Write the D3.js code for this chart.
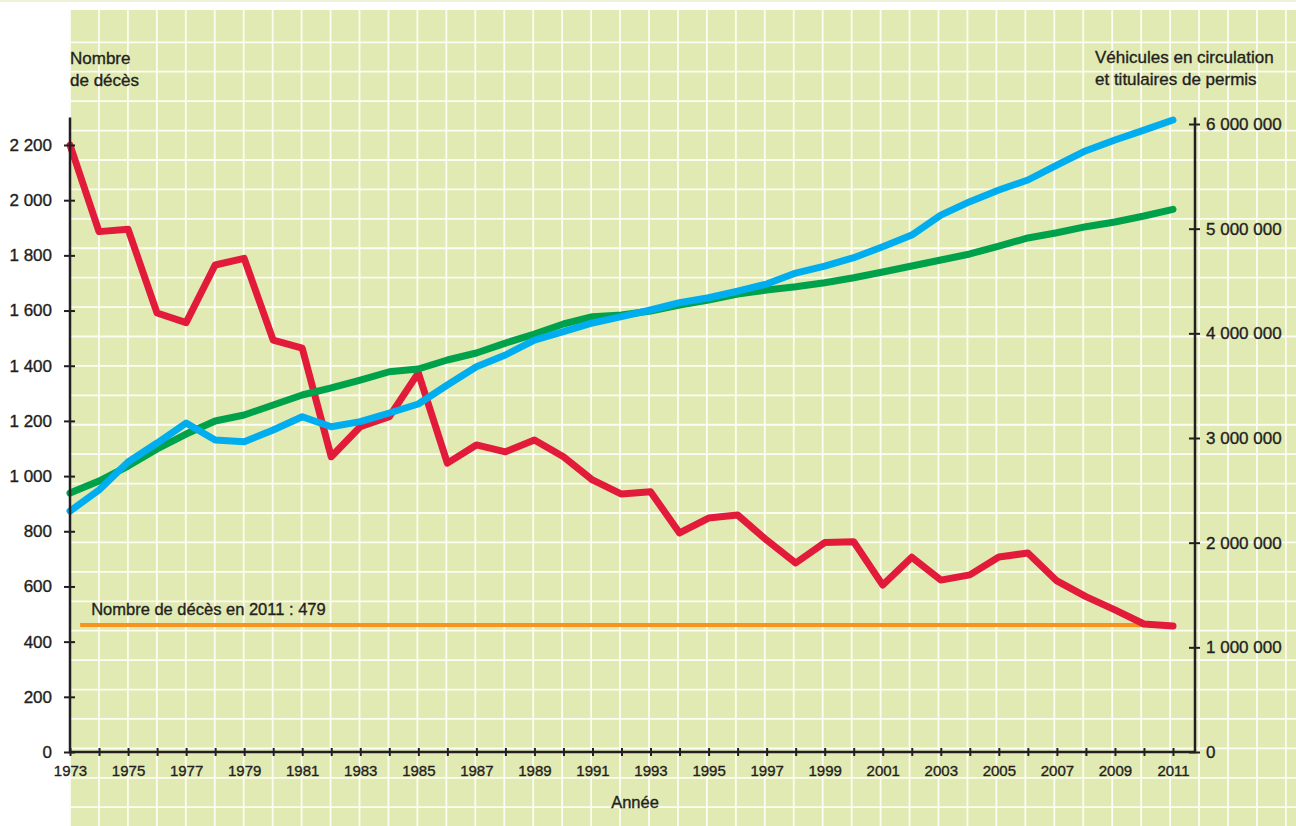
<!DOCTYPE html>
<html lang="fr">
<head>
<meta charset="utf-8">
<script src="https://cdn.jsdelivr.net/npm/d3@7"></script>
<style>
  body { margin: 0; background: #fff; }
  svg { display: block; font-family: "Liberation Sans", Arial, sans-serif; }
  svg text { stroke: #231f20; stroke-width: 0.35px; }
</style>
</head>
<body>
<div id="chart"></div>
<script>
// data
const years = [1973, 1974, 1975, 1976, 1977, 1978, 1979, 1980, 1981, 1982,
  1983, 1984, 1985, 1986, 1987, 1988, 1989, 1990, 1991, 1992, 1993, 1994,
  1995, 1996, 1997, 1998, 1999, 2000, 2001, 2002, 2003, 2004, 2005, 2006,
  2007, 2008, 2009, 2010, 2011];

// nombre de décès (axe de gauche)
const deces = [2200, 1886, 1895, 1591, 1556, 1765, 1789, 1493, 1464, 1070,
  1179, 1215, 1374, 1047, 1113, 1088, 1131, 1070, 986, 935, 943, 794,
  848, 859, 768, 685, 759, 762, 605, 706, 623, 642, 707, 721,
  620, 563, 515, 464, 457];

// courbe bleue (axe de droite)
const vehicules = [2302000, 2503000, 2771000, 2952000, 3143000, 2981000,
  2965000, 3076000, 3203000, 3108000, 3156000, 3239000, 3325000, 3506000,
  3681000, 3793000, 3936000, 4016000, 4099000, 4159000, 4223000, 4293000,
  4340000, 4404000, 4471000, 4576000, 4643000, 4723000, 4828000, 4939000,
  5130000, 5258000, 5369000, 5465000, 5608000, 5745000, 5847000, 5942000,
  6038000];

// courbe verte (axe de droite)
const permis = [2474000, 2589000, 2732000, 2895000, 3038000, 3162000,
  3220000, 3315000, 3411000, 3478000, 3554000, 3633000, 3659000, 3745000,
  3812000, 3907000, 3993000, 4089000, 4159000, 4175000, 4213000, 4270000,
  4318000, 4376000, 4414000, 4445000, 4484000, 4531000, 4586000, 4643000,
  4701000, 4758000, 4834000, 4911000, 4961000, 5019000, 5064000, 5121000,
  5185000];

// ligne de référence orange
const refValue = 460;
const refFrom = 1973.35;
const refTo = 2011;
const refLabel = "Nombre de décès en 2011 : 479";

const leftTicks = [0, 200, 400, 600, 800, 1000, 1200, 1400, 1600, 1800, 2000, 2200];
const rightTicks = [0, 1000000, 2000000, 3000000, 4000000, 5000000, 6000000];
const yearLabels = [1973, 1975, 1977, 1979, 1981, 1983, 1985, 1987, 1989, 1991,
  1993, 1995, 1997, 1999, 2001, 2003, 2005, 2007, 2009, 2011];

const W = 1296, H = 826;
const ink = "#231f20";
const fmt = d3.formatLocale({
  decimal: ",", thousands: " ", grouping: [3], currency: ["", ""],
}).format(",d");

const svg = d3
  .select("#chart")
  .append("svg")
  .attr("width", W)
  .attr("height", H);

// background panel and white grid
svg.append("rect").attr("x", 0).attr("y", 0).attr("width", W).attr("height", 2)
  .attr("fill", "#eef2d6");
svg.append("rect").attr("x", 70).attr("y", 10).attr("width", W - 70).attr("height", H - 10)
  .attr("fill", "#e2eab3");
const grid = svg.append("g").attr("stroke", "#fbfcf2").attr("stroke-width", 1.8);
for (let gx = 70; gx < W; gx += 28.95) {
  grid.append("line").attr("x1", gx).attr("x2", gx).attr("y1", 10).attr("y2", H);
}
for (let gy = 42.3; gy < H; gy += 29.42) {
  grid.append("line").attr("x1", 70).attr("x2", W).attr("y1", gy).attr("y2", gy);
}

// scales
const x = d3.scaleLinear().domain([1973, 2011]).range([70, 1173]);
const yLeft = d3.scaleLinear().domain([0, 2200]).range([752, 145]);
const yRight = d3.scaleLinear().domain([0, 6000000]).range([752, 124]);
const axisRightX = 1195;
const axisTop = yLeft(2300);

const line = (yScale) => d3.line().x((d) => x(d[0])).y((d) => yScale(d[1]));

// reference line
svg.append("path")
  .attr("fill", "none")
  .attr("stroke", "#f7941d")
  .attr("stroke-width", 4)
  .attr("d", line(yLeft)([[refFrom, refValue], [refTo, refValue]]));
svg.append("text")
  .attr("x", x(refFrom) + 11)
  .attr("y", yLeft(refValue) - 10)
  .attr("fill", ink)
  .attr("font-size", 16.5)
  .text(refLabel);

// series
const series = [
  { values: deces, scale: yLeft, color: "#e31b3b" },
  { values: permis, scale: yRight, color: "#00a14b" },
  { values: vehicules, scale: yRight, color: "#00aeef" },
];
series.forEach((s) => {
  svg.append("path")
    .attr("fill", "none")
    .attr("stroke", s.color)
    .attr("stroke-width", 7)
    .attr("stroke-linejoin", "round")
    .attr("stroke-linecap", "round")
    .attr("d", line(s.scale)(years.map((yr, i) => [yr, s.values[i]])));
});

// axes
const axisX = svg.append("g")
  .attr("transform", "translate(0,752)")
  .call(d3.axisBottom(x).tickValues(years).tickSize(0)
    .tickFormat((d) => (yearLabels.includes(d) ? d : "")));
axisX.select(".domain").remove();
axisX.selectAll(".tick line").attr("y1", -4).attr("y2", 4)
  .attr("stroke", ink).attr("stroke-width", 2);
axisX.selectAll(".tick text").attr("y", 24).attr("dy", 0)
  .attr("font-size", 15).attr("fill", ink)
  .attr("font-family", "Liberation Sans, Arial, sans-serif");

const axisL = svg.append("g")
  .attr("transform", "translate(70,0)")
  .call(d3.axisLeft(yLeft).tickValues(leftTicks).tickSize(0).tickFormat(fmt));
axisL.select(".domain").remove();
axisL.selectAll(".tick line").attr("x1", -6).attr("x2", 5)
  .attr("stroke", ink).attr("stroke-width", 2);
axisL.selectAll(".tick text").attr("x", -18)
  .attr("font-size", 17).attr("fill", ink)
  .attr("font-family", "Liberation Sans, Arial, sans-serif");

const axisR = svg.append("g")
  .attr("transform", `translate(${axisRightX},0)`)
  .call(d3.axisRight(yRight).tickValues(rightTicks).tickSize(0).tickFormat(fmt));
axisR.select(".domain").remove();
axisR.selectAll(".tick line").attr("x1", -6).attr("x2", 5)
  .attr("stroke", ink).attr("stroke-width", 2);
axisR.selectAll(".tick text").attr("x", 11)
  .attr("font-size", 17).attr("fill", ink)
  .attr("font-family", "Liberation Sans, Arial, sans-serif");

// axis frame lines
svg.append("path")
  .attr("fill", "none")
  .attr("stroke", ink)
  .attr("stroke-width", 2.5)
  .attr("d", `M70,${axisTop}V752H${axisRightX}V${axisTop}`);

// titles
const title = (tx, ty, lines) => {
  const t = svg.append("text").attr("x", tx).attr("y", ty)
    .attr("font-size", 17).attr("fill", ink);
  lines.forEach((l, i) => t.append("tspan").attr("x", tx).attr("dy", i ? 22 : 0).text(l));
};
title(70, 64, ["Nombre", "de décès"]);
title(1095, 63, ["Véhicules en circulation", "et titulaires de permis"]);

svg.append("text")
  .attr("x", 635)
  .attr("y", 808)
  .attr("text-anchor", "middle")
  .attr("font-size", 16.5)
  .attr("fill", ink)
  .text("Année");
</script>
</body>
</html>
